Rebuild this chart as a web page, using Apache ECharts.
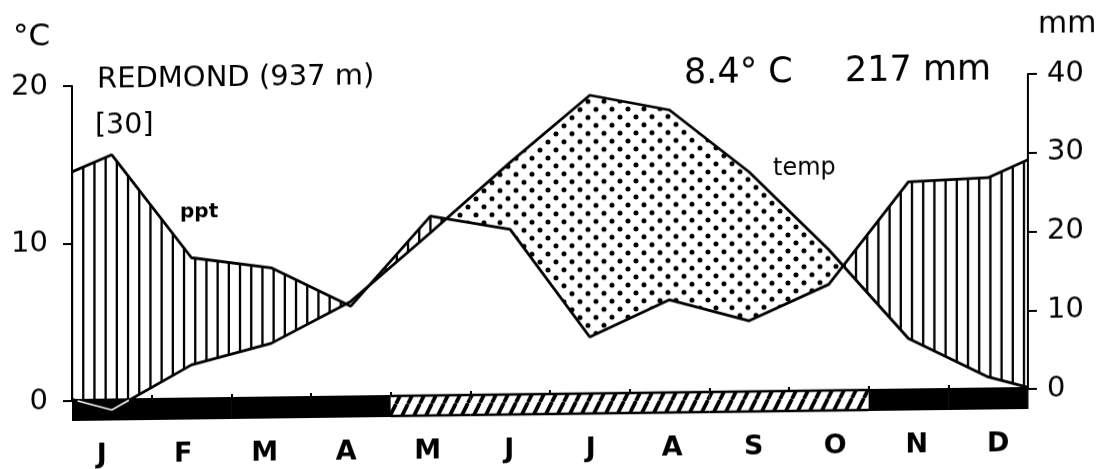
<!DOCTYPE html>
<html><head><meta charset="utf-8">
<script src="https://cdn.jsdelivr.net/npm/echarts@6/dist/echarts.min.js"></script>
<style>
html,body{margin:0;padding:0;background:#fff;}
#chart{width:1104px;height:469px;transform:skewY(-0.72deg);transform-origin:72px 401px;}
</style></head><body><div id="chart"></div>
<script>
// ---- data ----
const months = ['J','F','M','A','M','J','J','A','S','O','N','D'];
const temperature = [-0.6, 2.2, 3.5, 6.1, 10.4, 14.8, 19.0, 18.0, 14.0, 9.0, 3.3, 0.8];      // °C
const precipitation = [31.2, 18.0, 16.6, 11.6, 22.9, 21.1, 7.3, 11.9, 9.1, 13.6, 26.5, 26.9]; // mm
const tempAtEdges = 0.1;   // value of temp curve where it meets the axes
const pptAtEdges = 29.1;   // value of ppt curve where it meets the axes
const frost = [2,2,2,2,1,1,1,1,1,1,2,2]; // 2 = black bar, 1 = hatched bar
const tempTicks = [0, 20, 10];  // min, max, interval
const pptTicks = [0, 40, 10];
const station = 'REDMOND (937 m)';
const years = '[30]';
const meanTemp = '8.4° C';
const annualPpt = '217 mm';

// ---- helpers ----
const tempPts = [[0, tempAtEdges]].concat(temperature.map((v,i)=>[i+0.5, v]), [[12, tempAtEdges]]);
const pptPts  = [[0, pptAtEdges]].concat(precipitation.map((v,i)=>[i+0.5, v]), [[12, pptAtEdges]]);

// split the band between the curves into humid / arid regions (ppt scaled 2 mm = 1 °C)
function buildRegions(){
  const out = [];
  const n = tempPts.length;
  let cur = null;
  for (let i = 0; i < n; i++){
    const x = tempPts[i][0], t = tempPts[i][1], p = pptPts[i][1] / 2;
    const d = p - t;
    if (!cur){ cur = {humid: d >= 0, p: [[x,p]], t: [[x,t]]}; continue; }
    const xp = tempPts[i-1][0], tp = tempPts[i-1][1], pp = pptPts[i-1][1] / 2;
    const dp = pp - tp;
    if (dp * d < 0){
      const f = dp / (dp - d);
      const xc = xp + f * (x - xp), yc = tp + f * (t - tp);
      cur.p.push([xc,yc]); cur.t.push([xc,yc]);
      out.push(cur);
      cur = {humid: d >= 0, p: [[xc,yc]], t: [[xc,yc]]};
    }
    cur.p.push([x,p]); cur.t.push([x,t]);
  }
  out.push(cur);
  return out;
}
const regions = buildRegions();

// parts of the temperature curve below 0 °C (drawn white over the black bar)
function belowZero(){
  const out = []; let cur = null;
  for (let i = 0; i < tempPts.length; i++){
    const [x,t] = tempPts[i];
    if (i > 0){
      const [xp,tp] = tempPts[i-1];
      if ((tp < 0) !== (t < 0)){
        const xc = xp + (0 - tp) / (t - tp) * (x - xp);
        if (t < 0){ cur = [[xc,0]]; } else if (cur){ cur.push([xc,0]); out.push(cur); cur = null; }
      }
    }
    if (t < 0){ if (!cur) cur = []; cur.push([x,t]); }
  }
  if (cur) out.push(cur);
  return out;
}
const coldParts = belowZero();

function makeCanvas(w,h,draw){const c=document.createElement('canvas');c.width=w;c.height=h;draw(c.getContext('2d'));return c;}
const vHatch = {image: makeCanvas(56, 8, g=>{g.fillStyle='#000'; for(let k=0;k<5;k++){const x=(16+11.2*k)%56; g.fillRect(x-1.1,0,2.3,8);} }), repeat:'repeat'};
const dots = {image: makeCanvas(16,16,g=>{g.fillStyle='#000'; [[4,4],[12,12]].forEach(([x,y])=>{g.beginPath();g.arc(x,y,2.5,0,Math.PI*2);g.fill();}); }), repeat:'repeat'};
const dHatch = {image: makeCanvas(12,24,g=>{g.fillStyle='#fff';g.fillRect(0,0,12,24);g.strokeStyle='#000'; g.lineWidth=3.8; for (const o of [-12,0,12]) {g.beginPath(); g.moveTo(o,24); g.lineTo(o+12,0); g.stroke();} }), repeat:'repeat'};

const FONT = '"DejaVu Sans"';
const chart = echarts.init(document.getElementById('chart'), null, {renderer:'canvas'});
const axisLabelBase = {color:'#000', fontFamily:'DejaVu Sans', fontSize:29};
function txt(x, y, text, font){
  return {type:'text', x:x, y:y, style:{text:text, font:font, fill:'#000', verticalAlign:'middle', textVerticalAlign:'middle'}};
}
chart.setOption({
  animation:false,
  backgroundColor:'#fff',
  grid:[
    {left:72, right:76, top:86, bottom:68},
    {left:61, right:65, top:86, bottom:68}   // month-label band (slightly wider spacing)
  ],
  xAxis:[
    {type:'value', gridIndex:0, min:0, max:12, interval:1, position:'bottom',
     axisLine:{show:true, onZero:false, lineStyle:{color:'#000', width:2}},
     axisTick:{show:true, inside:true, length:5, lineStyle:{color:'#000', width:2}},
     axisLabel:{show:false}, splitLine:{show:false}},
    {type:'category', gridIndex:1, data:months, boundaryGap:true, position:'bottom',
     axisLine:{show:false, onZero:false}, axisTick:{show:false}, splitLine:{show:false},
     axisLabel:{color:'#000', fontFamily:'DejaVu Sans', fontSize:27, fontWeight:'bold', margin:55, verticalAlign:'middle', interval:0}}
  ],
  yAxis:[
    {type:'value', gridIndex:0, min:tempTicks[0], max:tempTicks[1], interval:tempTicks[2], position:'left',
     axisLine:{show:true, onZero:false, lineStyle:{color:'#000', width:2}},
     axisTick:{show:true, length:9, lineStyle:{color:'#000', width:2}},
     axisLabel:Object.assign({margin:24}, axisLabelBase), splitLine:{show:false}},
    {type:'value', gridIndex:0, min:pptTicks[0], max:pptTicks[1], interval:pptTicks[2], position:'right',
     axisLine:{show:true, onZero:false, lineStyle:{color:'#000', width:2}},
     axisTick:{show:true, length:9, lineStyle:{color:'#000', width:2}},
     axisLabel:Object.assign({margin:19}, axisLabelBase), splitLine:{show:false}},
    {type:'value', gridIndex:1, show:false, min:0, max:1}
  ],
  series:[
    {type:'custom', name:'regions', coordinateSystem:'cartesian2d', xAxisIndex:0, yAxisIndex:0, z:1, silent:true,
     data: regions.map(r=>[r.p[0][0], 0]),
     renderItem:function(params, api){
       const r = regions[params.dataIndex];
       const pts = r.p.map(q=>api.coord(q)).concat(r.t.slice().reverse().map(q=>api.coord(q)));
       return {type:'polygon', shape:{points:pts}, style:{fill: r.humid ? vHatch : dots, stroke:null}};
     }},
    {type:'custom', name:'frost', coordinateSystem:'cartesian2d', xAxisIndex:0, yAxisIndex:0, z:3, silent:true,
     data: frost.map((f,i)=>[i, f]),
     renderItem:function(params, api){
       const i = api.value(0), f = api.value(1);
       const a = api.coord([i, 0]), b = api.coord([i+1, 0]);
       const top = a[1] - 2, h = 22, w = b[0] - a[0];
       if (f === 2) return {type:'rect', shape:{x:a[0], y:top, width:w + 0.5, height:h}, style:{fill:'#000'}};
       return {type:'group', children:[
         {type:'rect', shape:{x:a[0], y:top, width:w, height:h}, style:{fill:dHatch}},
         {type:'line', shape:{x1:a[0], y1:top+1, x2:b[0], y2:top+1}, style:{stroke:'#000', lineWidth:2.5}},
         {type:'line', shape:{x1:a[0], y1:top+h-1, x2:b[0], y2:top+h-1}, style:{stroke:'#000', lineWidth:2.5}}
       ]};
     }},
    {type:'line', name:'ppt', xAxisIndex:0, yAxisIndex:1, data:pptPts, symbol:'none', z:5, clip:false,
     lineStyle:{color:'#000', width:2.8}},
    {type:'line', name:'temp', xAxisIndex:0, yAxisIndex:0, data:tempPts, symbol:'none', z:6, clip:false,
     lineStyle:{color:'#000', width:2.8}},
    {type:'custom', name:'tempBelowZero', coordinateSystem:'cartesian2d', xAxisIndex:0, yAxisIndex:0, z:7, silent:true,
     data: coldParts.map(p=>[p[0][0], 0]),
     renderItem:function(params, api){
       const pts = coldParts[params.dataIndex].map(q=>api.coord(q));
       return {type:'polyline', shape:{points:pts}, style:{stroke:'#fff', lineWidth:1.6, fill:null}};
     }}
  ],
  graphic:[
    txt(13, 37, '°C', '31px '+FONT),
    txt(1038, 37, 'mm', '30px '+FONT),
    txt(97, 80, station, '29px '+FONT),
    txt(95, 127, years, '28.5px '+FONT),
    txt(684, 82, meanTemp, '35px '+FONT),
    txt(845, 82, annualPpt, '35px '+FONT),
    txt(180, 214, 'ppt', 'bold 20px '+FONT),
    txt(773, 178, 'temp', '24px '+FONT)
  ]
});
</script></body></html>
